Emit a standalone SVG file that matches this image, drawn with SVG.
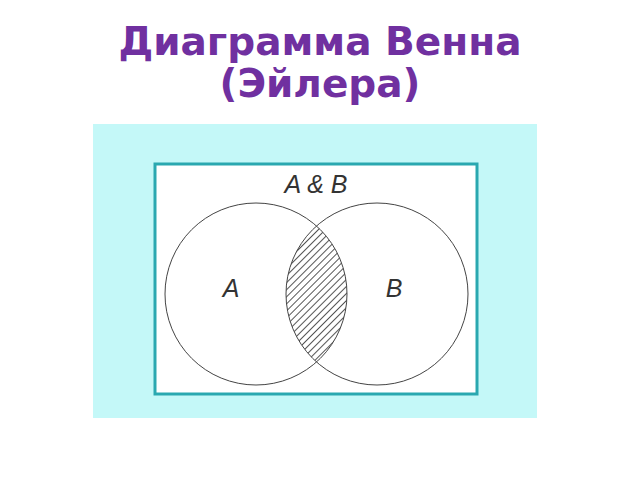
<svg xmlns="http://www.w3.org/2000/svg" width="640" height="480" viewBox="0 0 640 480">
<defs>
<style>
.title{font-family:"DejaVu Sans",sans-serif;font-weight:bold;font-size:39px;fill:#7030A0;text-anchor:middle}
.lbl{font-family:"Liberation Sans",Arial,sans-serif;font-style:italic;font-size:25px;fill:#333;text-anchor:middle}
.circ{fill:none;stroke:#444;stroke-width:1}
</style>
<pattern id="hatch" patternUnits="userSpaceOnUse" width="5" height="5" patternTransform="rotate(-45)">
<line x1="0" y1="2.5" x2="5" y2="2.5" stroke="#555" stroke-width="1"/>
</pattern>
<clipPath id="clipA"><circle cx="256" cy="294" r="91"/></clipPath>
</defs>
<rect width="640" height="480" fill="#fff"/>
<g id="title">
<text class="title" x="320" y="55">Диаграмма Венна</text>
<text class="title" x="320" y="97">(Эйлера)</text>
</g>
<g id="panel">
<rect x="93" y="124" width="444" height="294" fill="#C4F8F8"/>
<rect x="155" y="164" width="322" height="230" fill="#fff" stroke="#2AA8B0" stroke-width="3"/>
</g>
<g id="intersection">
<circle cx="377" cy="294" r="91" fill="url(#hatch)" clip-path="url(#clipA)"/>
</g>
<g id="setA">
<circle class="circ" cx="256" cy="294" r="91"/>
<text class="lbl" x="231" y="297">A</text>
</g>
<g id="setB">
<circle class="circ" cx="377" cy="294" r="91"/>
<text class="lbl" x="394" y="297">B</text>
</g>
<g id="universe-label">
<text class="lbl" x="316" y="193">A &amp; B</text>
</g>
<g id="connectors"/>
</svg>
